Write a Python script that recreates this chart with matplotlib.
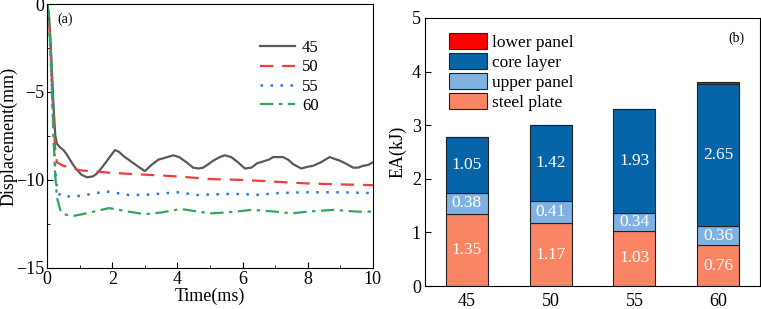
import matplotlib
matplotlib.use('Agg')
import matplotlib.pyplot as plt
from matplotlib.ticker import MultipleLocator

plt.rcParams['font.family'] = ['Liberation Serif', 'DejaVu Serif']
plt.rcParams['font.size'] = 13

# (a) displacement curves
t45 = [0, 0.05, 0.1, 0.15, 0.2, 0.25, 0.3, 0.4, 0.5, 0.6, 0.7, 0.8, 0.9, 1.05, 1.22, 1.4, 1.52, 1.7,
       1.9, 2.08, 2.2, 2.35, 2.5, 2.65, 2.8, 3.0, 3.2, 3.41, 3.6, 3.87, 4.05, 4.28, 4.48, 4.65, 4.79,
       4.95, 5.1, 5.3, 5.45, 5.65, 5.86, 6.07, 6.27, 6.45, 6.63, 6.8, 6.94, 7.1, 7.24, 7.4, 7.55,
       7.8, 8.0, 8.16, 8.4, 8.67, 8.82, 8.98, 9.2, 9.39, 9.55, 9.69, 9.85, 10]
d45 = [0, -0.5, -2.0, -4.0, -6.0, -7.5, -7.95, -8.15, -8.3, -8.55, -8.85, -9.15, -9.4, -9.7, -9.85,
       -9.8, -9.65, -9.25, -8.75, -8.3, -8.4, -8.65, -8.85, -9.05, -9.25, -9.5, -9.15, -8.85, -8.75,
       -8.6, -8.7, -9.0, -9.3, -9.35, -9.3, -9.1, -8.9, -8.7, -8.6, -8.7, -9.0, -9.35, -9.3, -9.05,
       -8.95, -8.85, -8.7, -8.7, -8.7, -8.85, -9.1, -9.35, -9.25, -9.2, -9.0, -8.7, -8.8, -8.9,
       -9.1, -9.3, -9.3, -9.2, -9.15, -9.0]
t50 = [0, 0.05, 0.1, 0.15, 0.2, 0.25, 0.3, 0.5, 1.0, 2, 3, 4, 5, 6, 7, 8, 9, 10]
d50 = [0, -0.6, -2.3, -4.5, -6.8, -8.4, -9.0, -9.2, -9.45, -9.6, -9.7, -9.8, -9.95, -10.0, -10.1, -10.2,
       -10.25, -10.3]
t55 = [0, 0.05, 0.1, 0.15, 0.2, 0.25, 0.3, 0.4, 0.8, 1.2, 1.8, 2.5, 3, 4, 4.6, 5.5, 6, 6.5, 7, 8, 9, 10]
d55 = [0, -0.7, -2.5, -5.0, -7.5, -9.5, -10.5, -10.9, -10.95, -10.85, -10.65, -10.85, -10.85, -10.7,
       -10.85, -10.8, -10.8, -10.85, -10.75, -10.7, -10.7, -10.75]
t60 = [0, 0.05, 0.1, 0.15, 0.2, 0.25, 0.3, 0.4, 0.5, 0.8, 1.2, 1.9, 2.5, 3, 3.5, 4.1, 5, 5.5, 6.3,
       7, 7.5, 8, 8.8, 9.5, 10]
d60 = [0, -0.7, -2.6, -5.2, -7.8, -9.8, -11.0, -11.7, -11.95, -12.05, -11.9, -11.6, -11.8, -11.95,
       -11.85, -11.65, -11.9, -11.85, -11.7, -11.8, -11.9, -11.8, -11.7, -11.8, -11.8]

# (b) energy absorption
angles = ['45', '50', '55', '60']
steel_plate = [1.35, 1.17, 1.03, 0.76]
upper_panel = [0.38, 0.41, 0.34, 0.36]
core_layer = [1.05, 1.42, 1.93, 2.65]
lower_panel = [0.0, 0.0, 0.01, 0.04]

fig = plt.figure(figsize=(7.61, 3.09), dpi=100)

ax1 = fig.add_axes([0.062, 0.133, 0.428, 0.854])
ax1.plot(t45, d45, color='#5a5a5a', lw=1.6, label='45')
ax1.plot(t50, d50, color='#f03c3c', lw=1.6, ls=(0, (6, 4)), label='50')
ax1.plot(t55, d55, color='#2a7ae2', lw=1.8, ls=(0, (1, 3)), label='55')
ax1.plot(t60, d60, color='#2ea85a', lw=1.6, ls=(0, (6, 2.5, 1.5, 2.5)), label='60')
ax1.set_xlim(0, 10)
ax1.set_ylim(-15, 0)
ax1.xaxis.set_major_locator(MultipleLocator(2))
ax1.xaxis.set_minor_locator(MultipleLocator(1))
ax1.yaxis.set_major_locator(MultipleLocator(5))
ax1.yaxis.set_minor_locator(MultipleLocator(2.5))
ax1.tick_params(which='both', direction='in', labelsize=13)
ax1.tick_params(which='major', length=4, pad=2)
ax1.tick_params(which='minor', length=2.5)
ax1.set_xlabel('Time(ms)', fontsize=13, labelpad=0)
ax1.set_ylabel('Displacement(mm)', fontsize=13, labelpad=-1)
ax1.text(0.03, 0.93, '(a)', transform=ax1.transAxes, fontsize=10)
ax1.legend(loc='upper right', bbox_to_anchor=(0.88, 0.92), frameon=False, fontsize=12,
           handlelength=2.1, labelspacing=0.2, handletextpad=0.45)

ax2 = fig.add_axes([0.5585, 0.0744, 0.4402, 0.8676])
x = range(len(angles))
w = 0.5
b1 = ax2.bar(x, steel_plate, w, color='#fa8564', edgecolor='#222222', lw=0.8, label='steel plate')
bottom2 = steel_plate
b2 = ax2.bar(x, upper_panel, w, bottom=bottom2, color='#7fb1e3', edgecolor='#222222', lw=0.8,
             label='upper panel')
bottom3 = [s + u for s, u in zip(steel_plate, upper_panel)]
b3 = ax2.bar(x, core_layer, w, bottom=bottom3, color='#0565a8', edgecolor='#222222', lw=0.8,
             label='core layer')
bottom4 = [b + c for b, c in zip(bottom3, core_layer)]
b4 = ax2.bar(x, lower_panel, w, bottom=bottom4, color='#ff0000', edgecolor='#222222', lw=0.8,
             label='lower panel')

for i in x:
    ax2.text(i, steel_plate[i] / 2, f'{steel_plate[i]:.2f}', ha='center', va='center',
             color='white', fontsize=12.5)
    ax2.text(i, bottom2[i] + upper_panel[i] / 2, f'{upper_panel[i]:.2f}', ha='center', va='center',
             color='white', fontsize=12.5)
    ax2.text(i, bottom3[i] + core_layer[i] / 2, f'{core_layer[i]:.2f}', ha='center', va='center',
             color='white', fontsize=12.5)

ax2.set_xlim(-0.5, 3.5)
ax2.set_ylim(0, 5)
ax2.set_xticks(list(x))
ax2.set_xticklabels(angles, fontsize=13)
ax2.yaxis.set_major_locator(MultipleLocator(1))
ax2.tick_params(axis='y', direction='in', length=4, labelsize=13, pad=3)
ax2.tick_params(axis='x', length=0, pad=5)
ax2.set_ylabel('EA(kJ)', fontsize=13, labelpad=4)
ax2.text(0.93, 0.91, '(b)', transform=ax2.transAxes, fontsize=10, ha='center')
ax2.legend(handles=[b4, b3, b2, b1], loc='upper left', bbox_to_anchor=(0.035, 0.99), frameon=False,
           fontsize=12.5, handlelength=2.2, handleheight=1.1, labelspacing=0.1, handletextpad=0.3,
           borderaxespad=0.3)

fig.savefig('out.png', dpi=100)
